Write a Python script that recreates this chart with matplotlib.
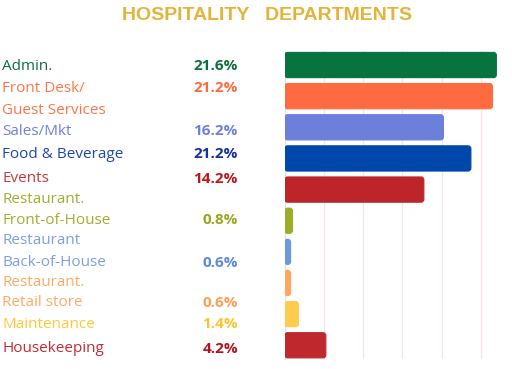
import matplotlib.pyplot as plt
from matplotlib.patches import FancyBboxPatch

# data
categories = ["Admin.", "Front Desk/\nGuest Services", "Sales/Mkt", "Food & Beverage",
              "Events", "Restaurant.\nFront-of-House", "Restaurant\nBack-of-House",
              "Restaurant.\nRetail store", "Maintenance", "Housekeeping"]
pct_labels = ["21.6%", "21.2%", "16.2%", "21.2%", "14.2%", "0.8%", "0.6%", "0.6%", "1.4%", "4.2%"]
bar_values = [21.6, 21.2, 16.2, 19.0, 14.2, 0.8, 0.6, 0.6, 1.4, 4.2]

bar_colors = ["#077440", "#ff6b40", "#6b7fdb", "#0047ab", "#bd2528",
              "#9cad26", "#6a9ad8", "#ffa65c", "#ffcc4d", "#bf282c"]
name_colors = ["#0c6e3c", "#ff7548", "#7080d8", "#1e46a6", "#c43c3c",
               "#a3ad2c", "#7d9fe0", "#ffa966", "#ffc83a", "#c42b33"]
pct_colors = ["#0c6e3c", "#ff6a3d", "#6f80dc", "#14309a", "#b8191e",
              "#98a61e", "#5b8ad8", "#ff9f55", "#ffc231", "#b0141c"]

W, H = 512, 369
fig = plt.figure(figsize=(W / 100, H / 100), dpi=100)

# text column layout (pixel rows of each text line)
line_y = [65, 86, 108, 130, 153, 177, 197, 218, 238, 261, 280, 301, 322, 347]
pct_y = [64, 86, 129, 152, 177, 218, 261, 301, 322, 347]
dy = 2

fig.text(267 / W, 1 - 15 / H, "HOSPITALITY   DEPARTMENTS", ha="center", va="center",
         fontsize=14, fontweight="bold", color="#e4b339", family="Liberation Sans")

k = 0
for name, col in zip(categories, name_colors):
    for part in name.split("\n"):
        fig.text(2 / W, 1 - (line_y[k] + dy) / H, part, ha="left", va="center",
                 fontsize=11, color=col, family="Open Sans")
        k += 1

for lab, col, y in zip(pct_labels, pct_colors, pct_y):
    fig.text(238 / W, 1 - (y + dy) / H, lab, ha="right", va="center",
             fontsize=11, fontweight="bold", color=col, family="Open Sans")

ax = fig.add_axes([284.7 / W, 1 - 359.3 / H, 215.6 / W, 308.3 / H])
ypos = list(range(len(bar_values)))
bars = ax.barh(ypos, bar_values, height=0.81, color=bar_colors)
ax.set_xlim(0, 22)
ax.set_ylim(9.45, -0.45)

# rounded bars
aspect = (1 / 31.15) / (1 / 9.8)
for rect, col in zip(bars, bar_colors):
    rect.set_visible(False)
    x0, y0 = rect.get_x(), rect.get_y()
    w, h = rect.get_width(), rect.get_height()
    rs = min(0.3, w / 2)
    p = FancyBboxPatch((x0, y0), w, h, boxstyle=f"round,pad=0,rounding_size={rs}",
                       mutation_aspect=aspect, facecolor=col, edgecolor=col,
                       linewidth=0.8, zorder=3)
    ax.add_patch(p)

ax.set_xticks([4, 8, 12, 16, 20])
ax.grid(axis="x", color="#f7e4e4", linewidth=0.9, zorder=0)
ax.set_axisbelow(True)
ax.tick_params(left=False, bottom=False, labelleft=False, labelbottom=False)
for s in ["top", "right", "bottom"]:
    ax.spines[s].set_visible(False)
ax.spines["left"].set_color("#e6dada")
ax.spines["left"].set_linewidth(0.8)

plt.savefig("out.png", dpi=100)
